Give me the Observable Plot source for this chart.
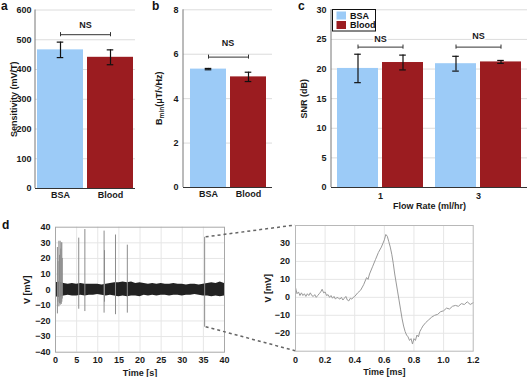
<!DOCTYPE html>
<html><head><meta charset="utf-8">
<script src="https://cdn.jsdelivr.net/npm/d3@7"></script>
<script src="https://cdn.jsdelivr.net/npm/@observablehq/plot@0.6"></script>
<style>
body{margin:0;background:#fff;}
#fig{position:relative;width:530px;height:377px;overflow:hidden;background:#fff;font-family:"Liberation Sans",Arial,sans-serif;}
</style></head><body><div id="fig"></div>
<script>
// ---------- data ----------
const groups = ["BSA", "Blood"];
const colors = ["#9ccbf7", "#9b1c20"];
const sensitivity = [466, 441];
const sensitivityErr = [26, 25];
const bmin = [5.33, 4.98];
const bminErr = [0.03, 0.21];
const flowRates = ["1", "3"];
const snrBSA = [20.1, 20.9];
const snrBSAErr = [2.4, 1.25];
const snrBlood = [21.1, 21.2];
const snrBloodErr = [1.25, 0.25];

const ticksA = [0, 100, 200, 300, 400, 500, 600];
const ticksB = [0, 2, 4, 6, 8];
const ticksC = [0, 5, 10, 15, 20, 25, 30];
const ticksD1x = [0, 5, 10, 15, 20, 25, 30, 35, 40];
const ticksD1y = [-40, -30, -20, -10, 0, 10, 20, 30, 40];
const ticksD2x = [0, 0.2, 0.4, 0.6, 0.8, 1.0, 1.2];
const ticksD2y = [-20, -10, 0, 10, 20, 30];

// recording envelope (s, mV)
const noiseT  = [0,1,2,3,4,5,6,7,8,9,10,11,12,13,14,15,16,17,18,19,20,21,22,23,24,25,26,27,28,29,30,31,32,33,34,35,36,37,38,39,40];
const noiseHi = [4.5,5,4,3.5,4,3.5,4,3.5,3.5,3.5,3.5,3,3.5,4,4.5,4.5,5,4.5,5,4,4.5,4,3.5,4,3.5,4,3.5,3.5,4,3.5,3.5,3,3.5,3.5,3,3.5,4,4.5,4,5,4];
const noiseLo = [-4.5,-5,-4,-3.5,-4,-4,-3.5,-4,-3.5,-3.5,-3,-3.5,-4,-3.5,-4,-4.5,-4,-4.5,-4,-4,-4.5,-3.5,-4,-3.5,-4,-3.5,-3.5,-4,-3.5,-3.5,-4,-3.5,-3.5,-3,-3.5,-4,-4,-4.5,-4,-4.5,-4];
const spikeTimes   = [0.45, 0.6, 0.8, 0.95, 1.1, 1.25, 1.35, 1.5, 1.6, 5.5, 6.95, 11.5, 11.6, 14.2, 17.0, 35.3];
const spikeTops    = [27, 18, 31, 22, 31, 26, 30, 30, 20, 33, 38.5, 37.5, 25, 35, 28.5, 33.5];
const spikeBottoms = [-15.5, -8, -11, -9, -10, -9, -9.5, -8, -6, -12.5, -14, -15, -8, -16, -15, -24];
const zoomSpike = 15; // index of the zoomed spike

// zoomed waveform (ms, mV)
const waveT = [0,0.01,0.02,0.03,0.04,0.05,0.06,0.07,0.08,0.09,0.10,0.11,0.12,0.13,0.14,0.15,0.16,0.17,0.18,0.19,0.20,0.21,0.22,0.23,0.24,0.25,0.26,0.27,0.28,0.29,0.30,0.31,0.32,0.33,0.34,0.35,0.36,0.37,0.38,0.39,0.40,0.42,0.44,0.46,0.48,0.49,0.50,0.52,0.54,0.56,0.58,0.60,0.61,0.62,0.63,0.64,0.65,0.66,0.67,0.68,0.69,0.70,0.71,0.72,0.73,0.74,0.75,0.76,0.77,0.78,0.79,0.80,0.81,0.82,0.83,0.84,0.85,0.86,0.88,0.90,0.92,0.94,0.96,0.98,1.00,1.02,1.04,1.06,1.08,1.10,1.12,1.14,1.16,1.18,1.20];
const waveV = [5.5,2,3,1,2.5,1,2,0.5,2,1,2.5,1,0.5,1.5,0,1,2,3,4.5,2.5,3,1,1.5,0,1,-0.5,0.5,-1,0,-0.5,-1,0,-1.5,-0.5,0.5,-1.5,-2,-0.5,-1,0,0.5,2.5,4,7,11,10,13,17,21,25,28,32,35,34,31,28,24,19,13,8,3,-2,-7,-12,-16,-19,-21,-22,-24,-23,-26,-23,-24,-21,-22,-19,-17.5,-16,-14,-12.5,-11,-10,-9.5,-8,-7.5,-6,-6.5,-5,-4.5,-5,-3.5,-4,-2.5,-4,-3];

// ---------- helpers ----------
const FONT = '"Liberation Sans", Arial, Helvetica, sans-serif';
const fig = document.getElementById("fig");
function place(svg, left, top) {
  svg.style.position = "absolute";
  svg.style.left = left + "px";
  svg.style.top = top + "px";
  fig.appendChild(svg);
  return svg;
}
function bandwidth(W, n, pi, po) { return W * (1 - pi) / (n - pi + 2 * po); }
const baseStyle = {fontFamily: FONT, fontSize: "9px", fontWeight: "bold", color: "#1a1a1a", background: "transparent", overflow: "visible"};
function leftAxisLine(plot, stroke) {
  const y = plot.scale("y").range;
  const xr = plot.scale("fx") ? plot.scale("fx").range : plot.scale("x").range;
  const x0 = Math.min(...xr);
  d3.select(plot).append("line")
    .attr("x1", x0).attr("x2", x0)
    .attr("y1", Math.min(...y)).attr("y2", Math.max(...y))
    .attr("stroke", stroke);
}

// ---------- panel a ----------
const dataA = groups.map((g, i) => ({g, v: sensitivity[i], e: sensitivityErr[i]}));
const capA = (bandwidth(100, 2, 0.08, 0.03) - 7) / 2;
const plotA = Plot.plot({
  width: 150, height: 210, marginLeft: 35, marginRight: 15, marginTop: 9.5, marginBottom: 22,
  style: baseStyle,
  x: {domain: groups, paddingInner: 0.08, paddingOuter: 0.03, label: null, tickSize: 0, tickPadding: 3.5},
  y: {domain: [0, 600], ticks: ticksA, label: "Sensitivity (mV/T)", labelAnchor: "center", labelArrow: "none", labelOffset: 25, tickSize: 0, tickPadding: 4},
  color: {domain: groups, range: colors},
  marks: [
    Plot.ruleY(ticksA.slice(1), {stroke: "#dcdcdc"}),
    Plot.barY(dataA, {x: "g", y: "v", fill: "g"}),
    Plot.ruleX(dataA, {x: "g", y1: d => d.v - d.e, y2: d => d.v + d.e, stroke: "#111", strokeWidth: 1.2}),
    Plot.tickY(dataA, {x: "g", y: d => d.v + d.e, insetLeft: capA, insetRight: capA, stroke: "#111", strokeWidth: 1.2}),
    Plot.tickY(dataA, {x: "g", y: d => d.v - d.e, insetLeft: capA, insetRight: capA, stroke: "#111", strokeWidth: 1.2}),
    Plot.link([{a: "BSA", b: "Blood", y: 517}], {x1: "a", x2: "b", y1: "y", y2: "y", stroke: "#333"}),
    Plot.ruleX(groups, {x: d => d, y1: 510, y2: 524, stroke: "#333"}),
    Plot.text(["NS"], {y: 548, text: d => d, frameAnchor: "middle", fontSize: 9, fontWeight: "bold"}),
    Plot.ruleY([0], {stroke: "#333"})
  ]
});
place(plotA, 0, 0);
leftAxisLine(plotA, "#777");

// ---------- panel b ----------
const dataB = groups.map((g, i) => ({g, v: bmin[i], e: bminErr[i]}));
const capB = (bandwidth(89, 2, 0.1, 0.15) - 7) / 2;
const plotB = Plot.plot({
  width: 130, height: 210, marginLeft: 33, marginRight: 8, marginTop: 9.3, marginBottom: 23,
  style: baseStyle,
  x: {domain: groups, paddingInner: 0.1, paddingOuter: 0.15, label: null, tickSize: 0, tickPadding: 3.5},
  y: {domain: [0, 8], ticks: ticksB, label: null, tickSize: 0, tickPadding: 5},
  color: {domain: groups, range: colors},
  marks: [
    Plot.ruleY(ticksB.slice(1), {stroke: "#dcdcdc"}),
    Plot.barY(dataB, {x: "g", y: "v", fill: "g"}),
    Plot.ruleX(dataB, {x: "g", y1: d => d.v - d.e, y2: d => d.v + d.e, stroke: "#111", strokeWidth: 1.2}),
    Plot.tickY(dataB, {x: "g", y: d => d.v + d.e, insetLeft: capB, insetRight: capB, stroke: "#111", strokeWidth: 1.2}),
    Plot.tickY(dataB, {x: "g", y: d => d.v - d.e, insetLeft: capB, insetRight: capB, stroke: "#111", strokeWidth: 1.2}),
    Plot.link([{a: "BSA", b: "Blood", y: 5.87}], {x1: "a", x2: "b", y1: "y", y2: "y", stroke: "#333"}),
    Plot.ruleX(groups, {x: d => d, y1: 5.78, y2: 5.96, stroke: "#333"}),
    Plot.text(["NS"], {y: 6.5, text: d => d, frameAnchor: "middle", fontSize: 9, fontWeight: "bold"}),
    Plot.ruleY([0], {stroke: "#333"})
  ]
});
place(plotB, 150, 0);
leftAxisLine(plotB, "#777");

// ---------- panel c ----------
const dataC = [];
flowRates.forEach((f, i) => {
  dataC.push({flow: f, g: "BSA", v: snrBSA[i], e: snrBSAErr[i]});
  dataC.push({flow: f, g: "Blood", v: snrBlood[i], e: snrBloodErr[i]});
});
const nsC = [{flow: "1", y: 25.0, b: 23.7}, {flow: "3", y: 25.5, b: 23.7}];
const capsC = dataC.map(d => ({flow: d.flow, g: d.g, b: 23.7}));
const capC = (bandwidth(98, 2, 0.09, 0.122) - 7) / 2;
const plotC = Plot.plot({
  width: 250, height: 210, marginLeft: 51, marginRight: 3, marginTop: 9.3, marginBottom: 23,
  style: baseStyle,
  fx: {domain: flowRates, paddingInner: 0, paddingOuter: 0, label: "Flow Rate (ml/hr)", labelAnchor: "center", labelArrow: "none", labelOffset: 21, tickSize: 0, tickPadding: 5, axis: "bottom"},
  x: {domain: groups, paddingInner: 0.09, paddingOuter: 0.122, axis: null},
  y: {domain: [0, 30], ticks: ticksC, label: "SNR (dB)", labelAnchor: "center", labelArrow: "none", labelOffset: 31, tickSize: 0, tickPadding: 5},
  color: {domain: groups, range: colors},
  marks: [
    Plot.ruleY(ticksC.slice(1), {stroke: "#dcdcdc"}),
    Plot.barY(dataC, {fx: "flow", x: "g", y: "v", fill: "g"}),
    Plot.ruleX(dataC, {fx: "flow", x: "g", y1: d => d.v - d.e, y2: d => d.v + d.e, stroke: "#111", strokeWidth: 1.2}),
    Plot.tickY(dataC, {fx: "flow", x: "g", y: d => d.v + d.e, insetLeft: capC, insetRight: capC, stroke: "#111", strokeWidth: 1.2}),
    Plot.tickY(dataC, {fx: "flow", x: "g", y: d => d.v - d.e, insetLeft: capC, insetRight: capC, stroke: "#111", strokeWidth: 1.2}),
    Plot.link(nsC, {fx: "flow", x1: () => "BSA", x2: () => "Blood", y1: "b", y2: "b", stroke: "#333"}),
    Plot.ruleX(capsC, {fx: "flow", x: "g", y1: d => d.b - 0.35, y2: d => d.b + 0.35, stroke: "#333"}),
    Plot.text(nsC, {fx: "flow", y: "y", text: () => "NS", frameAnchor: "middle", fontSize: 9, fontWeight: "bold", stroke: "white", strokeWidth: 3, fill: "#1a1a1a"}),
    Plot.ruleY([0], {stroke: "#333"})
  ]
});
place(plotC, 280, 0);
leftAxisLine(plotC, "#777");

// ---------- panel d (recording) ----------
const noise = noiseT.map((t, i) => ({t, lo: noiseLo[i], hi: noiseHi[i]}));
const spikes = spikeTimes.map((t, i) => ({t, lo: spikeBottoms[i], hi: spikeTops[i]}));
const plotD1 = Plot.plot({
  width: 250, height: 162, marginLeft: 55, marginRight: 26, marginTop: 11.7, marginBottom: 25.3,
  style: baseStyle,
  x: {domain: [0, 40], ticks: ticksD1x, label: "Time [s]", labelAnchor: "center", labelArrow: "none", labelOffset: 24, tickSize: 0, tickPadding: 4.5},
  y: {domain: [-40, 40], ticks: ticksD1y, label: "V [mV]", labelAnchor: "center", labelArrow: "none", labelOffset: 31.5, tickSize: 0, tickPadding: 5},
  marks: [
    Plot.ruleX(ticksD1x.slice(1, -1), {stroke: "#e6e6e6"}),
    Plot.ruleY(ticksD1y.slice(1, -1), {stroke: "#e6e6e6"}),
    Plot.areaY(noise, {x: "t", y1: "lo", y2: "hi", fill: "#222"}),
    Plot.ruleX(spikes, {x: "t", y1: "lo", y2: "hi", stroke: "#8c8c8c", strokeWidth: 1}),
    Plot.frame({stroke: "#a8a8a8"})
  ]
});
place(plotD1, 0, 215);

// ---------- panel d (zoom) ----------
const wave = waveT.map((t, i) => ({t, v: waveV[i]}));
const plotD2 = Plot.plot({
  width: 250, height: 162, marginLeft: 45, marginRight: 27.3, marginTop: 10, marginBottom: 26.3,
  style: baseStyle,
  x: {domain: [0, 1.2], ticks: ticksD2x, tickFormat: d => d === 0 ? "0" : d.toFixed(1), label: "Time [ms]", labelAnchor: "center", labelArrow: "none", labelOffset: 24, tickSize: 0, tickPadding: 5},
  y: {domain: [-30, 40], ticks: ticksD2y, label: "V [mV]", labelAnchor: "center", labelArrow: "none", labelOffset: 31, tickSize: 0, tickPadding: 5.5},
  marks: [
    Plot.ruleX(ticksD2x.slice(1, -1), {stroke: "#e6e6e6"}),
    Plot.ruleY(ticksD2y, {stroke: "#e6e6e6"}),
    Plot.lineY(wave, {x: "t", y: "v", stroke: "#999", strokeWidth: 1}),
    Plot.frame({stroke: "#b8b8b8"})
  ]
});
place(plotD2, 250, 215);

// ---------- overlay: panel letters, B_min label, legend, connectors ----------
const ov = d3.create("svg").attr("width", 530).attr("height", 377)
  .style("position", "absolute").style("left", "0px").style("top", "0px")
  .style("pointer-events", "none").style("font-family", FONT).style("font-weight", "bold");
[["a", 1, 10], ["b", 152, 10], ["c", 298, 10], ["d", 2, 229]].forEach(([t, x, y]) =>
  ov.append("text").attr("x", x).attr("y", y).attr("font-size", 12).attr("fill", "#111").text(t));

// B_min y-axis label of panel b
const bYr = plotB.scale("y").range;
const bl = ov.append("text")
  .attr("transform", `translate(162,${(bYr[0] + bYr[1]) / 2}) rotate(-90)`)
  .attr("text-anchor", "middle").attr("font-size", 9).attr("fill", "#1a1a1a");
bl.append("tspan").text("B");
bl.append("tspan").attr("font-size", 6.5).attr("dy", 2).text("min");
bl.append("tspan").attr("dy", -2).text("(\u03bcT/\u221aHz)");

// legend of panel c
const lg = ov.append("g");
lg.append("rect").attr("x", 332.5).attr("y", 9.5).attr("width", 43).attr("height", 21.5)
  .attr("fill", "white").attr("stroke", "#111").attr("stroke-width", 1);
groups.forEach((g, i) => {
  lg.append("rect").attr("x", 336.5).attr("y", 11.5 + i * 9.5).attr("width", 9.5).attr("height", 8).attr("fill", colors[i]);
  lg.append("text").attr("x", 350).attr("y", 18.8 + i * 9.5).attr("font-size", 9).attr("fill", "#111").text(g);
});

// dashed connectors from the zoomed spike to the zoom panel
const x1 = plotD1.scale("x"), y1 = plotD1.scale("y");
const x2 = plotD2.scale("x"), y2 = plotD2.scale("y");
const sx = x1.apply(spikeTimes[zoomSpike]) + 1.5;
const d2y = plotD2.scale("y").domain;
[[spikeTops[zoomSpike], d2y[1]], [spikeBottoms[zoomSpike], d2y[0]]].forEach(([a, b]) => {
  ov.append("line")
    .attr("x1", sx).attr("y1", y1.apply(a) + 215)
    .attr("x2", x2.apply(0) + 250).attr("y2", y2.apply(b) + 215)
    .attr("stroke", "#666").attr("stroke-width", 1.5).attr("stroke-dasharray", "3,3");
});
fig.appendChild(ov.node());
</script></body></html>
